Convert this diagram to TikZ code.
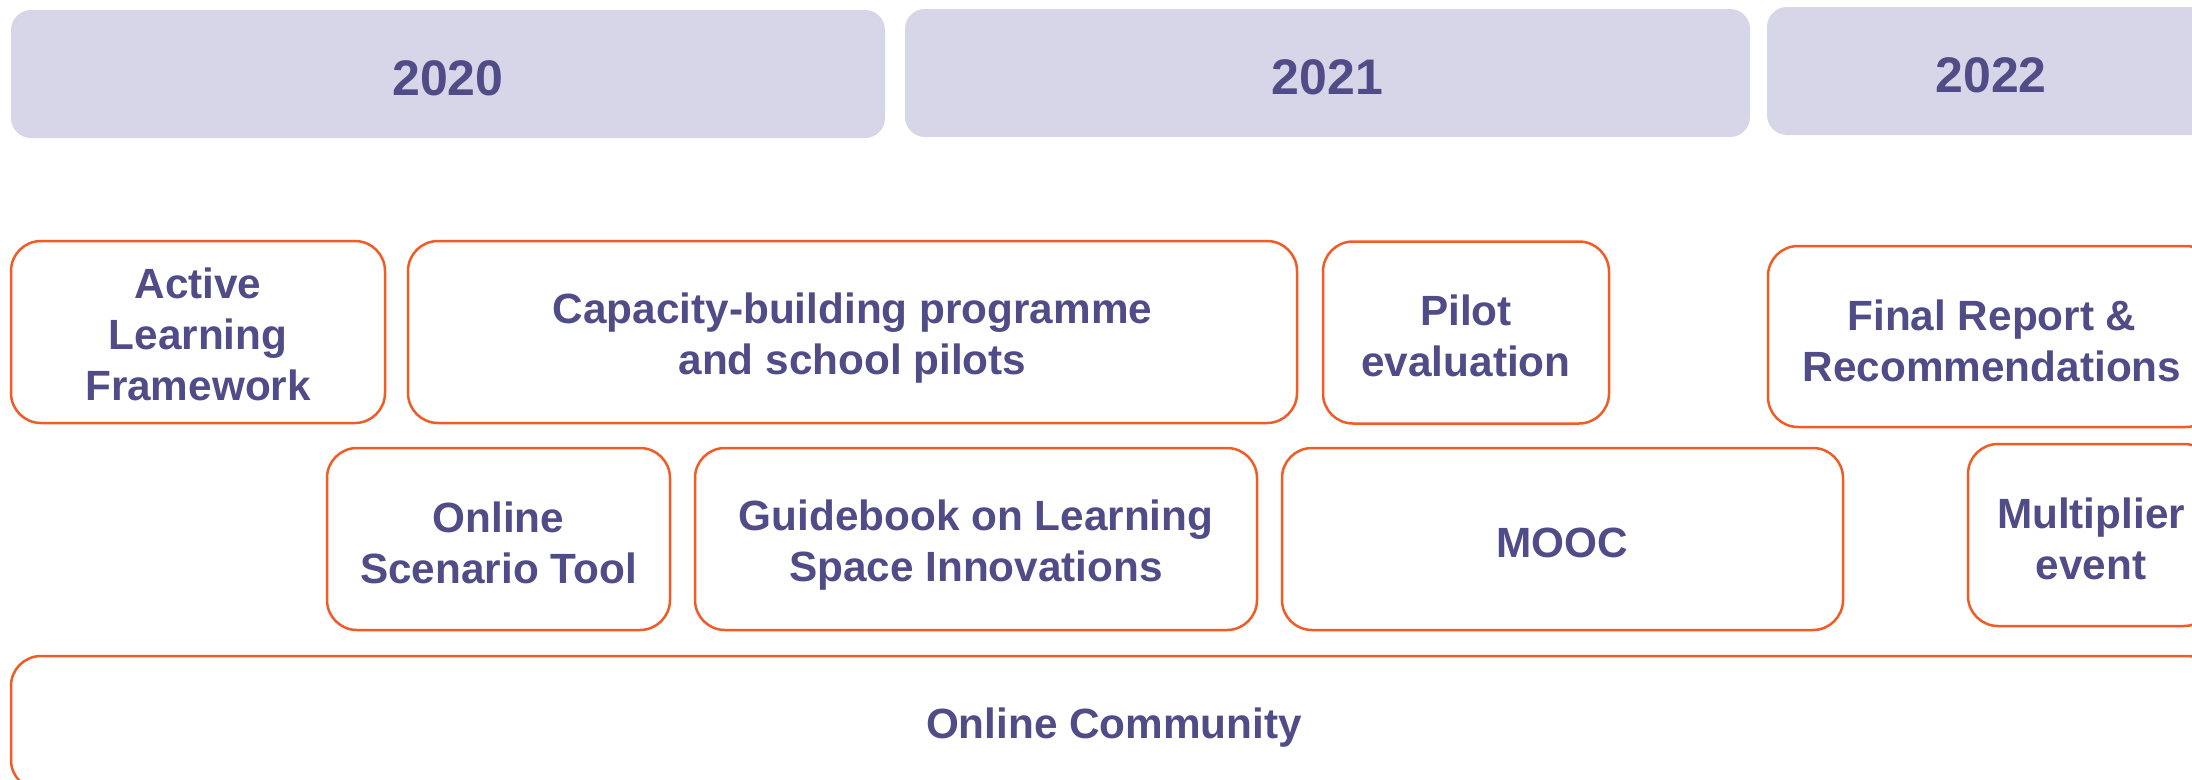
\documentclass[tikz,border=0pt]{standalone}
\usepackage{fontspec}
\setmainfont{Liberation Sans}
\definecolor{yearfill}{RGB}{215,214,232}
\definecolor{txt}{RGB}{80,76,135}
\definecolor{orng}{RGB}{241,92,37}
\begin{document}
\begin{tikzpicture}[x=1pt,y=-1pt,
  yearbox/.style={fill=yearfill,draw=none,rounded corners=20pt,inner sep=0pt,
    minimum height=128pt},
  actbox/.style={draw=orng,line width=2.5pt,fill=white,rounded corners=30pt,inner sep=0pt,
    minimum height=182pt},
  yeartxt/.style={text=txt,inner sep=0pt,font=\fontsize{50}{60}\selectfont\bfseries},
  acttxt/.style={text=txt,inner sep=0pt,align=center,font=\fontsize{42.3}{51}\selectfont\bfseries}]
\useasboundingbox (0,0) rectangle (2192,779);
\clip (0,0) rectangle (2192,779);
\node[yearbox,minimum width=874pt] (y2020) at (448,74) {};
\node[yearbox,minimum width=845pt] (y2021) at (1327.5,73) {};
\node[yearbox,minimum width=448pt] (y2022) at (1991,71) {};
\node[yeartxt] (t2020) at ([yshift=-4pt]y2020.center) {2020};
\node[yeartxt] (t2021) at ([yshift=-4pt]y2021.center) {2021};
\node[yeartxt] (t2022) at ([yshift=-4pt]y2022.center) {2022};
\node[actbox,minimum width=374pt] (alf) at (198,332) {};
\node[actbox,minimum width=889pt] (cap) at (852.5,332) {};
\node[actbox,minimum width=286pt] (pilot) at (1466,332.5) {};
\node[actbox,minimum width=448pt,minimum height=181pt] (final) at (1992,336.5) {};
\node[actbox,minimum width=343pt] (ost) at (498.5,539) {};
\node[actbox,minimum width=562pt] (guide) at (976,539) {};
\node[actbox,minimum width=561pt] (mooc) at (1562.5,539) {};
\node[actbox,minimum width=246pt] (mult) at (2091,535) {};
\node[actbox,minimum width=2206pt,minimum height=134pt] (comm) at (1114,723) {};
\node[acttxt] (talf) at ([yshift=-2pt]alf.center) {Active\\Learning\\Framework};
\node[acttxt] (tcap) at ([yshift=-6pt]cap.center) {Capacity-building programme\\and school pilots};
\node[acttxt] (tpilot) at ([yshift=-3pt]pilot.center) {Pilot\\evaluation};
\node[acttxt] (tfinal) at ([yshift=-4pt]final.center) {Final Report \&\\Recommendations};
\node[acttxt] (tost) at ([yshift=-4pt]ost.center) {Online\\Scenario Tool};
\node[acttxt] (tguide) at ([yshift=-6pt]guide.center) {Guidebook on Learning\\Space Innovations};
\node[acttxt] (tmooc) at ([yshift=-4pt]mooc.center) {MOOC};
\node[acttxt] (tmult) at ([yshift=-4pt]mult.center) {Multiplier\\event};
\node[acttxt] (tcomm) at ([yshift=-5pt]comm.center) {Online Community};
\end{tikzpicture}
\end{document}
